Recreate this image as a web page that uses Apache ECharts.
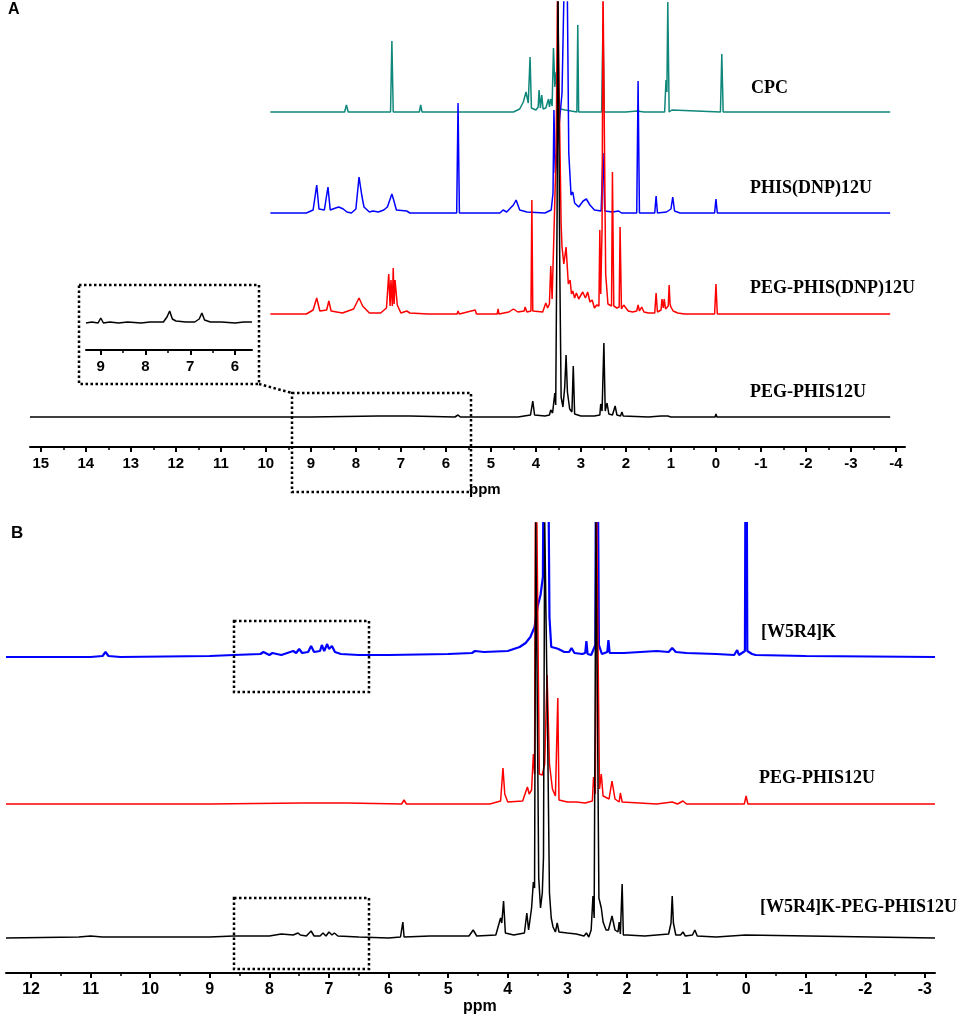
<!DOCTYPE html>
<html>
<head>
<meta charset="utf-8">
<script src="https://cdn.jsdelivr.net/npm/echarts@6/dist/echarts.min.js"></script>
<style>
html,body{margin:0;padding:0;background:#fff;}
#chart{width:970px;height:1024px;}
</style>
</head>
<body>
<div id="chart"></div>
<script>
// tick labels (ppm)
var ticksA = [15,14,13,12,11,10,9,8,7,6,5,4,3,2,1,0,-1,-2,-3,-4];
var ticksInset = [9,8,7,6];
var ticksB = [12,11,10,9,8,7,6,5,4,3,2,1,0,-1,-2,-3];

// panel A spectra, [ppm, height above own baseline]
var cpc = [[9.9,0],[8.25,0],[8.21,7],[8.17,0],[7.23,0],[7.2,71],[7.17,0],[6.59,0],[6.56,7],[6.53,0],[5.22,0],[5.2,2],[5.18,0],
  [4.92,0],[4.9,2],[4.88,0],[4.5,0],[4.36,3],[4.28,10],[4.22,20],[4.17,9],[4.13,55],[4.1,4],[4.0,2],[3.95,5],[3.93,22],[3.9,4],
  [3.87,17],[3.84,3],[3.78,4],[3.72,13],[3.7,5],[3.67,13],[3.64,6],[3.61,64],[3.58,25],[3.55,40],[3.52,10],[3.45,3],[3.35,2],
  [3.09,0],[3.07,87],[3.05,0],[2.54,0],[2.51,89],[2.48,0],[2.0,0],[1.75,1],[1.6,0],[1.14,0],[1.11,32],[1.09,20],[1.07,110],
  [1.04,0],[0.98,2],[0.94,0],[-0.1,0],[-0.13,58],[-0.16,0],[-3.87,0]];
var phisDnp = [[9.9,0],[9.1,0],[8.95,3],[8.87,28],[8.82,4],[8.7,3],[8.62,26],[8.57,3],[8.45,5],[8.38,6],[8.28,4],[8.2,1],[8.1,0],
  [8.0,4],[7.93,36],[7.87,18],[7.82,6],[7.7,1],[7.62,2],[7.5,1],[7.38,3],[7.3,6],[7.2,19],[7.16,13],[7.1,3],[6.87,2],[6.8,0],
  [5.76,0],[5.73,110],[5.7,0],[4.8,0],[4.73,3],[4.65,1],[4.5,8],[4.44,13],[4.36,3],[4.2,1],[3.8,0],[3.76,2],[3.66,3],[3.62,20],
  [3.6,103],[3.57,40],[3.5,80],[3.42,120],[3.36,260],[3.31,260],[3.27,60],[3.22,18],[3.18,21],[3.14,10],[3.05,6],[2.95,12],
  [2.88,14],[2.8,8],[2.7,3],[2.55,2],[2.51,60],[2.47,2],[2.3,1],[2.16,2],[2.1,0],[2.07,2],[1.9,0],[1.76,0],[1.73,132],[1.7,0],
  [1.36,0],[1.33,17],[1.3,0],[1.1,1],[1.0,4],[0.96,16],[0.92,2],[0.8,0],[0.03,0],[0.0,14],[-0.03,0],[-3.87,0]];
var pegPhisDnp = [[9.9,0],[9.1,0],[8.95,4],[8.87,16],[8.8,3],[8.65,4],[8.6,13],[8.55,3],[8.3,1],[8.05,5],[7.93,16],[7.85,8],
  [7.7,1],[7.45,1],[7.32,6],[7.27,40],[7.24,8],[7.22,34],[7.19,8],[7.17,46],[7.15,10],[7.13,34],[7.08,9],[7.0,1],[6.87,3],
  [6.8,1],[6.4,0],[5.75,0],[5.73,3],[5.7,0],[5.35,4],[5.32,0],[4.86,0],[4.84,5],[4.82,0],[4.6,2],[4.5,5],[4.4,2],[4.26,3],
  [4.24,7],[4.2,2],[4.11,3],[4.09,114],[4.07,3],[3.85,2],[3.78,11],[3.74,6],[3.7,10],[3.67,48],[3.64,15],[3.6,80],[3.55,164],
  [3.52,330],[3.48,330],[3.44,90],[3.42,67],[3.38,50],[3.33,67],[3.28,30],[3.24,34],[3.21,20],[3.18,23],[3.14,16],[3.1,21],
  [3.05,15],[2.96,22],[2.9,16],[2.85,22],[2.8,12],[2.75,14],[2.7,6],[2.65,9],[2.6,8],[2.58,84],[2.56,20],[2.53,86],[2.51,330],
  [2.48,330],[2.45,40],[2.4,10],[2.32,8],[2.3,142],[2.27,8],[2.2,6],[2.15,7],[2.13,87],[2.1,5],[2.05,9],[1.95,3],[1.85,2],
  [1.76,3],[1.73,9],[1.7,3],[1.65,7],[1.6,2],[1.5,1],[1.36,1],[1.33,21],[1.3,2],[1.22,4],[1.2,15],[1.17,6],[1.15,15],[1.12,5],
  [1.06,8],[1.04,29],[1.02,10],[1.0,7],[0.95,3],[0.85,1],[0.7,0],[0.03,0],[0.0,30],[-0.03,0],[-3.87,0]];
var pegPhisA = [[15.24,0],[9.0,0],[7.5,1],[6.8,1],[5.8,0],[5.73,2],[5.68,0],[4.4,0],[4.12,2],[4.07,16],[4.03,2],[3.8,1],
  [3.7,2],[3.67,7],[3.63,4],[3.58,24],[3.56,12],[3.53,200],[3.51,440],[3.49,440],[3.47,150],[3.44,20],[3.4,10],[3.36,30],
  [3.33,62],[3.3,25],[3.25,8],[3.2,5],[3.17,51],[3.14,3],[3.0,1],[2.7,1],[2.58,2],[2.56,13],[2.53,6],[2.49,74],[2.46,6],
  [2.42,14],[2.38,3],[2.3,2],[2.24,11],[2.2,2],[2.12,1],[2.09,5],[2.06,1],[1.5,0],[1.22,1],[1.07,1],[1.0,0],[0.02,0],[0.0,3],
  [-0.02,0],[-3.87,0]];
var insetPeg = [[9.33,0],[9.2,1],[9.06,0],[9.0,5],[8.94,0],[8.8,1],[8.6,0],[8.4,1],[8.1,0],[7.9,1],[7.6,1],[7.52,6],[7.46,12],
  [7.4,4],[7.32,2],[7.1,1],[6.9,1],[6.8,4],[6.74,10],[6.68,3],[6.55,1],[6.3,1],[6.0,0],[5.8,1],[5.62,1]];

// panel B spectra
var w5r4k = [[12.42,0],[11.0,0],[10.8,1],[10.75,5],[10.7,1],[10.5,0],[9.0,1],[8.6,2],[8.15,3],[8.1,5],[8.0,2],[7.95,4],
  [7.8,2],[7.65,5],[7.6,6],[7.55,4],[7.5,8],[7.45,4],[7.35,5],[7.3,11],[7.25,5],[7.15,6],[7.12,12],[7.08,6],[7.03,13],[7.0,8],
  [6.95,11],[6.9,5],[6.8,3],[6.5,2],[6.0,2],[5.0,3],[4.6,4],[4.55,6],[4.4,5],[4.0,6],[3.8,10],[3.7,14],[3.62,20],[3.55,30],
  [3.5,50],[3.45,62],[3.41,80],[3.38,400],[3.36,400],[3.34,400],[3.32,200],[3.3,40],[3.27,10],[3.2,9],[3.15,8],[3.05,5],
  [2.97,5],[2.93,9],[2.88,4],[2.75,3],[2.7,4],[2.68,16],[2.66,3],[2.6,2],[2.53,12],[2.51,400],[2.49,400],[2.47,12],[2.42,3],
  [2.33,5],[2.31,17],[2.29,4],[2.05,4],[1.5,6],[1.3,5],[1.24,9],[1.18,5],[1.0,4],[0.5,3],[0.2,2],[0.15,7],[0.12,2],[0.02,6],
  [0.0,400],[-0.02,6],[-0.1,3],[-0.13,5],[-0.16,2],[-1,1],[-3.17,0]];
var pegPhisB = [[12.42,0],[9.0,0],[7.45,1],[6.7,1],[5.78,0],[5.74,4],[5.7,0],[4.3,0],[4.12,3],[4.08,36],[4.05,10],[4.0,2],
  [3.75,3],[3.67,17],[3.64,10],[3.6,14],[3.57,50],[3.55,30],[3.53,400],[3.5,400],[3.47,30],[3.42,29],[3.38,40],[3.34,129],
  [3.3,40],[3.25,15],[3.2,8],[3.16,106],[3.14,4],[3.0,2],[2.85,2],[2.7,1],[2.58,3],[2.56,27],[2.53,10],[2.51,300],[2.49,300],
  [2.46,15],[2.43,30],[2.4,8],[2.3,5],[2.25,23],[2.2,5],[2.13,2],[2.11,11],[2.08,2],[2.05,2],[1.5,0],[1.24,2],[1.15,0],
  [1.06,3],[1.0,0],[0.03,0],[0.0,8],[-0.03,0],[-3.17,0]];
var w5r4kPeg = [[12.42,0],[11.2,1],[11.0,2],[10.8,1],[9.0,1],[8.6,2],[8.0,2],[7.8,4],[7.6,3],[7.52,5],[7.48,3],[7.38,2],
  [7.3,7],[7.25,2],[7.15,2],[7.1,5],[7.05,2],[7.0,6],[6.95,3],[6.91,5],[6.85,2],[6.5,1],[6.0,0],[5.8,1],[5.76,16],[5.74,1],
  [5.3,2],[4.65,2],[4.58,8],[4.52,2],[4.2,3],[4.12,20],[4.1,15],[4.07,37],[4.04,5],[3.9,3],[3.72,5],[3.68,25],[3.65,8],
  [3.6,30],[3.57,56],[3.55,50],[3.53,420],[3.51,420],[3.48,60],[3.45,30],[3.42,45],[3.4,81],[3.38,420],[3.35,420],[3.33,200],
  [3.3,45],[3.27,20],[3.24,11],[3.2,6],[3.17,15],[3.14,6],[3.0,5],[2.85,4],[2.72,2],[2.68,5],[2.64,1],[2.6,8],[2.57,42],
  [2.55,20],[2.52,420],[2.49,420],[2.47,40],[2.43,30],[2.4,16],[2.35,8],[2.31,8],[2.28,10],[2.25,22],[2.2,8],[2.15,6],
  [2.13,16],[2.11,4],[2.08,54],[2.06,3],[2.0,3],[1.7,2],[1.5,3],[1.3,4],[1.26,15],[1.24,42],[1.22,15],[1.18,3],[1.1,3],
  [1.06,6],[1.02,2],[0.9,3],[0.86,8],[0.82,2],[0.5,1],[0.01,3],[0,4],[-0.01,1],[-3.17,0]];

// stacking offsets and names
var namesA = ['CPC','PHIS(DNP)12U','PEG-PHIS(DNP)12U','PEG-PHIS12U'];
var offsetsA = [335,234,133,30];
var colorsA = ['#0f877b','#0000ff','#ff0000','#000000'];
var namesB = ['[W5R4]K','PEG-PHIS12U','[W5R4]K-PEG-PHIS12U'];
var offsetsB = [316,169,35];
var colorsB = ['#0000ff','#ff0000','#000000'];
var insetOffset = 27;

function halves(t){
  var r=[];
  for(var i=0;i<t.length-1;i++){ r.push((t[i]+t[i+1])/2); }
  return r;
}
function shift(spec,off){
  return spec.map(function(p){ return [p[0], p[1]+off]; });
}

var chart = echarts.init(document.getElementById('chart'), null, {renderer:'canvas'});

function mainAxis(grid,min,max,ticks,fs){
  return {
    type:'value', gridIndex:grid, min:min, max:max, inverse:true, position:'bottom',
    axisLine:{show:true,onZero:false,lineStyle:{color:'#000',width:2}},
    axisTick:{show:true,customValues:ticks,length:5,lineStyle:{color:'#000',width:2}},
    axisLabel:{show:true,customValues:ticks,margin:9,color:'#000',fontSize:fs,fontWeight:'bold',fontFamily:'Liberation Sans, Arial'},
    splitLine:{show:false}
  };
}
function minorAxis(grid,min,max,ticks){
  return {
    type:'value', gridIndex:grid, min:min, max:max, inverse:true, position:'bottom',
    axisLine:{show:false},
    axisTick:{show:true,customValues:ticks,length:3,lineStyle:{color:'#000',width:1.5}},
    axisLabel:{show:false},
    splitLine:{show:false}
  };
}
function hiddenY(grid,max){
  return {type:'value',gridIndex:grid,min:0,max:max,show:false,splitLine:{show:false}};
}

var specA = [cpc,phisDnp,pegPhisDnp,pegPhisA];
var specB = [w5r4k,pegPhisB,w5r4kPeg];
var series = [];
specA.forEach(function(s,i){
  series.push({name:namesA[i],type:'line',xAxisIndex:0,yAxisIndex:0,data:shift(s,offsetsA[i]),
    showSymbol:false,clip:true,lineStyle:{color:colorsA[i],width:1.5},itemStyle:{color:colorsA[i]},z:2+i});
});
series.push({name:'inset',type:'line',xAxisIndex:2,yAxisIndex:1,data:shift(insetPeg,insetOffset),
  showSymbol:false,clip:true,lineStyle:{color:'#000',width:1.5}});
specB.forEach(function(s,i){
  series.push({name:namesB[i],type:'line',xAxisIndex:4,yAxisIndex:2,data:shift(s,offsetsB[i]),
    showSymbol:false,clip:true,lineStyle:{color:colorsB[i],width:i===0?2.2:1.5},itemStyle:{color:colorsB[i]},z:2+i});
});

var serif = {fontFamily:'Liberation Serif, Times New Roman',fontWeight:'bold',fontSize:18,fill:'#000'};
function label(txt,x,y){
  return {type:'text',left:x,top:y-10,style:Object.assign({text:txt},serif),z:50};
}
var dot = {stroke:'#000',lineWidth:2.5,lineDash:[2.5,2.5],fill:null};

chart.setOption({
  animation:false,
  backgroundColor:'#fff',
  grid:[
    {left:30,width:875,top:2,height:445},
    {left:86,width:166,top:300,height:50},
    {left:6,width:929,top:523,height:450}
  ],
  xAxis:[
    mainAxis(0,-4.2,15.24,ticksA,15),
    minorAxis(0,-4.2,15.24,halves(ticksA)),
    mainAxis(1,5.62,9.33,ticksInset,15),
    minorAxis(1,5.62,9.33,halves(ticksInset)),
    mainAxis(2,-3.17,12.42,ticksB,16),
    minorAxis(2,-3.17,12.42,halves(ticksB))
  ],
  yAxis:[hiddenY(0,445),hiddenY(1,50),hiddenY(2,450)],
  series:series,
  graphic:[
    {type:'text',left:8,top:2,style:{text:'A',fontFamily:'Liberation Sans, Arial',fontWeight:'bold',fontSize:16,fill:'#000'}},
    {type:'text',left:11,top:525,style:{text:'B',fontFamily:'Liberation Sans, Arial',fontWeight:'bold',fontSize:17,fill:'#000'}},
    {type:'text',left:469,top:482,style:{text:'ppm',fontFamily:'Liberation Sans, Arial',fontWeight:'bold',fontSize:15,fill:'#000'}},
    {type:'text',left:463,top:999,style:{text:'ppm',fontFamily:'Liberation Sans, Arial',fontWeight:'bold',fontSize:16,fill:'#000'}},
    label(namesA[0],751,89),
    label(namesA[1],750,189),
    label(namesA[2],750,289),
    label(namesA[3],750,393),
    label(namesB[0],761,633),
    label(namesB[1],759,779),
    label(namesB[2],760,908),
    {type:'rect',shape:{x:79,y:285,width:180,height:99},style:dot,z:60},
    {type:'line',shape:{x1:259,y1:384,x2:292,y2:393},style:dot,z:60},
    {type:'rect',shape:{x:292,y:393,width:179,height:99},style:dot,z:60},
    {type:'rect',shape:{x:234,y:621,width:135,height:71},style:dot,z:60},
    {type:'rect',shape:{x:234,y:898,width:135,height:71},style:dot,z:60}
  ]
});
</script>
</body>
</html>
